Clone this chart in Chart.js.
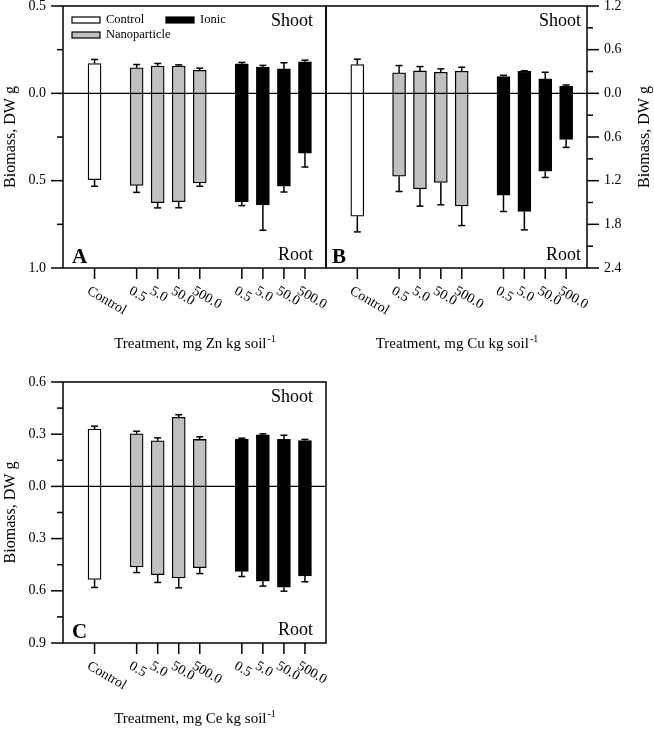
<!DOCTYPE html>
<html>
<head>
<meta charset="utf-8">
<script src="https://cdn.jsdelivr.net/npm/chart.js@4"></script>
<style>
  html, body { margin: 0; padding: 0; background: #fff; }
  body { width: 654px; height: 731px; position: relative; overflow: hidden; }
  canvas { position: absolute; }
</style>
</head>
<body>
<canvas id="chartA" width="330" height="360" style="left:0;top:0"></canvas>
<canvas id="chartB" width="334" height="360" style="left:320px;top:0"></canvas>
<canvas id="chartC" width="330" height="391" style="left:0;top:340px"></canvas>
<script>
const groupNames = ['Control', 'Nanoparticle', 'Ionic'];
const groupColors = ['#ffffff', '#c0c0c0', '#000000'];
const doseLabels = ['0.5', '5.0', '50.0', '500.0'];

// order: Control, Nanoparticle 0.5/5/50/500, Ionic 0.5/5/50/500
const znShoot    = [0.171, 0.146, 0.156, 0.156, 0.132, 0.169, 0.150, 0.140, 0.181];
const znShootErr = [0.023, 0.019, 0.015, 0.007, 0.012, 0.008, 0.010, 0.035, 0.009];
const znRoot     = [0.494, 0.527, 0.626, 0.620, 0.513, 0.622, 0.639, 0.532, 0.342];
const znRootErr  = [0.038, 0.040, 0.030, 0.035, 0.019, 0.021, 0.145, 0.033, 0.080];

const cuShoot    = [0.396, 0.281, 0.308, 0.290, 0.304, 0.230, 0.304, 0.198, 0.097];
const cuShootErr = [0.073, 0.101, 0.060, 0.046, 0.055, 0.018, 0.006, 0.092, 0.018];
const cuRoot     = [1.688, 1.138, 1.312, 1.225, 1.546, 1.399, 1.624, 1.069, 0.633];
const cuRootErr  = [0.216, 0.211, 0.238, 0.307, 0.271, 0.225, 0.252, 0.087, 0.110];

const ceShoot    = [0.330, 0.302, 0.262, 0.397, 0.270, 0.272, 0.296, 0.270, 0.264];
const ceShootErr = [0.016, 0.015, 0.017, 0.015, 0.015, 0.005, 0.006, 0.024, 0.006];
const ceRoot     = [0.535, 0.463, 0.507, 0.526, 0.467, 0.488, 0.545, 0.579, 0.514];
const ceRootErr  = [0.046, 0.032, 0.045, 0.057, 0.034, 0.030, 0.028, 0.023, 0.034];

const serif = '"Liberation Serif", "Times New Roman", serif';
Chart.defaults.font.family = serif;
Chart.defaults.color = '#000';

// slot on the x axis: control, gap, 4 nano, gap, 4 ionic
function slotOf(i) {
  if (i === 0) return 0;
  return i <= 4 ? i + 1 : i + 2;
}
function groupOf(i) {
  if (i === 0) return 0;
  return i <= 4 ? 1 : 2;
}
function labelOf(i) {
  return i === 0 ? 'Control' : doseLabels[(i - 1) % 4];
}

function line(ctx, x1, y1, x2, y2) {
  ctx.beginPath();
  ctx.moveTo(x1, y1);
  ctx.lineTo(x2, y2);
  ctx.stroke();
}

function makeDecor(p) {
  return {
    id: 'decor' + p.letter,
    afterDatasetsDraw(chart) {
      const ctx = chart.ctx;
      const a = chart.chartArea;
      const xs = chart.scales.x;
      const ys = chart.scales.y;
      ctx.save();
      ctx.strokeStyle = '#000';
      ctx.fillStyle = '#000';

      // zero line
      const y0 = ys.getPixelForValue(0);
      ctx.lineWidth = 1.3;
      line(ctx, a.left, y0, a.right, y0);

      // error bars
      ctx.lineWidth = 1.5;
      p.shoot.forEach((v, i) => {
        const x = xs.getPixelForValue(slotOf(i));
        const yTop = ys.getPixelForValue(v);
        const yE = ys.getPixelForValue(v + p.shootErr[i]);
        line(ctx, x, yTop, x, yE);
        line(ctx, x - 3.5, yE, x + 3.5, yE);
        const yBot = ys.getPixelForValue(-p.root[i]);
        const yE2 = ys.getPixelForValue(-p.root[i] - p.rootErr[i]);
        line(ctx, x, yBot, x, yE2);
        line(ctx, x - 3.5, yE2, x + 3.5, yE2);
      });

      // frame
      ctx.lineWidth = 1.5;
      ctx.strokeRect(a.left, a.top, a.right - a.left, a.bottom - a.top);

      // y tick marks
      const axisX = p.side === 'left' ? a.left : a.right;
      const dir = p.side === 'left' ? -1 : 1;
      const n = Math.round((p.yMax - p.yMin) / p.minor);
      for (let k = 0; k <= n; k++) {
        const v = p.yMin + k * p.minor;
        const major = k % 2 === 0;
        const y = ys.getPixelForValue(v);
        line(ctx, axisX, y, axisX + dir * (major ? 12 : 6), y);
      }

      // x tick marks and rotated labels
      ctx.font = '14px ' + serif;
      ctx.textAlign = 'left';
      ctx.textBaseline = 'top';
      p.shoot.forEach((v, i) => {
        const x = xs.getPixelForValue(slotOf(i));
        line(ctx, x, a.bottom, x, a.bottom + 11);
        ctx.save();
        ctx.translate(x - 3, a.bottom + 16);
        ctx.rotate(30 * Math.PI / 180);
        ctx.fillText(labelOf(i), 0, 0);
        ctx.restore();
      });

      // x title with superscript
      const main = 'Treatment, mg ' + p.metal + ' kg soil';
      ctx.font = '15px ' + serif;
      const wMain = ctx.measureText(main).width;
      ctx.font = '10px ' + serif;
      const wSup = ctx.measureText('-1').width;
      const cx = (a.left + a.right) / 2;
      const tx = cx - (wMain + wSup) / 2;
      const ty = a.bottom + 80;
      ctx.textBaseline = 'alphabetic';
      ctx.font = '15px ' + serif;
      ctx.fillText(main, tx, ty);
      ctx.font = '10px ' + serif;
      ctx.fillText('-1', tx + wMain + 1, ty - 6);

      // y title
      ctx.save();
      ctx.translate(p.yTitleX, (a.top + a.bottom) / 2);
      ctx.rotate(-Math.PI / 2);
      ctx.font = '16px ' + serif;
      ctx.textAlign = 'center';
      ctx.textBaseline = 'middle';
      ctx.fillText('Biomass, DW g', 0, 0);
      ctx.restore();

      // Shoot / Root / letter
      ctx.font = '18px ' + serif;
      ctx.textAlign = 'right';
      ctx.textBaseline = 'alphabetic';
      ctx.fillText('Shoot', a.right - p.textInset, a.top + 20);
      ctx.fillText('Root', a.right - p.textInset, a.bottom - 8);
      ctx.font = 'bold 21px ' + serif;
      ctx.textAlign = 'left';
      ctx.fillText(p.letter, a.left + p.letterInset, a.bottom - 5);

      // legend
      if (p.legend) {
        const items = [
          { g: 0, x: a.left + 9, y: a.top + 11 },
          { g: 2, x: a.left + 103, y: a.top + 11 },
          { g: 1, x: a.left + 9, y: a.top + 26 }
        ];
        ctx.font = '12.5px ' + serif;
        ctx.textBaseline = 'middle';
        ctx.lineWidth = 1.2;
        items.forEach(it => {
          ctx.fillStyle = groupColors[it.g];
          ctx.fillRect(it.x, it.y, 28, 6);
          ctx.strokeRect(it.x, it.y, 28, 6);
          ctx.fillStyle = '#000';
          ctx.fillText(groupNames[it.g], it.x + 34, it.y + 3);
        });
      }
      ctx.restore();
    }
  };
}

const panels = [
  { canvas: 'chartA', letter: 'A', metal: 'Zn', shoot: znShoot, shootErr: znShootErr, root: znRoot, rootErr: znRootErr,
    yMin: -1.0, yMax: 0.5, major: 0.5, minor: 0.25, side: 'left', yWidth: 63,
    padding: { top: 6, right: 4, bottom: 92, left: 0 }, yTitleX: 11, textInset: 13, letterInset: 9, legend: true },
  { canvas: 'chartB', letter: 'B', metal: 'Cu', shoot: cuShoot, shootErr: cuShootErr, root: cuRoot, rootErr: cuRootErr,
    yMin: -2.4, yMax: 1.2, major: 0.6, minor: 0.3, side: 'right', yWidth: 67,
    padding: { top: 6, right: 0, bottom: 92, left: 6 }, yTitleX: 325, textInset: 6, letterInset: 6, legend: false },
  { canvas: 'chartC', letter: 'C', metal: 'Ce', shoot: ceShoot, shootErr: ceShootErr, root: ceRoot, rootErr: ceRootErr,
    yMin: -0.9, yMax: 0.6, major: 0.3, minor: 0.15, side: 'left', yWidth: 63,
    padding: { top: 42, right: 4, bottom: 88, left: 0 }, yTitleX: 11, textInset: 13, letterInset: 9, legend: false }
];

panels.forEach(p => {
  const datasets = groupNames.map((name, g) => ({
    label: name,
    data: p.shoot.map((v, i) => ({ i, x: slotOf(i), y: [-p.root[i], v] }))
      .filter(d => groupOf(d.i) === g)
      .map(d => ({ x: d.x, y: d.y })),
    backgroundColor: groupColors[g],
    borderColor: '#000',
    borderWidth: 1.3,
    borderSkipped: false,
    barThickness: 13,
    grouped: false
  }));

  new Chart(document.getElementById(p.canvas).getContext('2d'), {
    type: 'bar',
    data: { datasets },
    options: {
      responsive: false,
      animation: false,
      layout: { padding: p.padding },
      plugins: { legend: { display: false }, tooltip: { enabled: false } },
      scales: {
        x: { type: 'linear', min: -1.5, max: 11, offset: false, display: false },
        y: {
          position: p.side,
          min: p.yMin, max: p.yMax,
          grid: { display: false, drawTicks: false },
          border: { display: false },
          ticks: {
            stepSize: p.major,
            padding: 17,
            font: { size: 14, lineHeight: 0.8 },
            color: '#000',
            callback: v => Math.abs(v).toFixed(1)
          },
          afterFit: scale => {
            scale.width = p.yWidth;
            scale.paddingTop = 0;
            scale.paddingBottom = 0;
          }
        }
      }
    },
    plugins: [makeDecor(p)]
  });
});
</script>
</body>
</html>
